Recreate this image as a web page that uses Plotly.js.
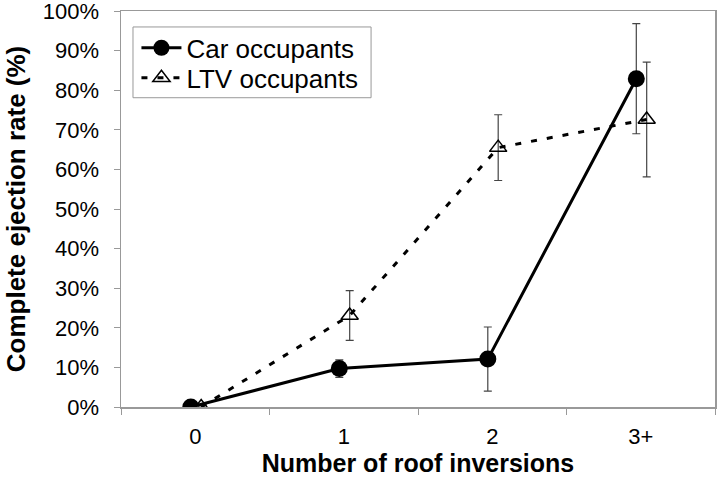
<!DOCTYPE html>
<html><head><meta charset="utf-8">
<script src="https://cdn.plot.ly/plotly-3.0.1.min.js"></script>
<style>html,body{margin:0;padding:0;background:#fff;}#chart{width:718px;height:481px;}</style>
</head><body><div id="chart"></div>
<script>
const categories = ["0", "1", "2", "3+"];
const carValues = [0, 9.7, 12.1, 82.9];
const carErrors = [0, 2.2, 8.1, 13.9];
const ltvValues = [0, 23.1, 65.5, 72.6];
const ltvErrors = [0, 6.3, 8.3, 14.5];
const yTickVals = [0,10,20,30,40,50,60,70,80,90,100];
const yTickText = ["0%","10%","20%","30%","40%","50%","60%","70%","80%","90%","100%"];

const idx = categories.map((c,i)=>i);
const carX = idx.map(i=>i-0.03);
const ltvX = idx.map(i=>i+0.04);

const traces = [
  {x: carX, y: carValues, name: 'Car occupants', mode:'lines+markers', type:'scatter', legend:'legend',
   line:{color:'#000', width:3}, marker:{symbol:'circle', size:17, color:'#000'},
   error_y:{type:'data', array:carErrors, visible:true, color:'#444', thickness:1.2, width:4}},
  {x: ltvX, y: ltvValues, name: 'LTV occupants', mode:'lines+markers', type:'scatter', legend:'legend2',
   line:{color:'#000', width:3, dash:'6px,10px'}, marker:{symbol:'triangle-up-open', size:15, color:'#000', line:{width:1.5, color:'#000'}},
   error_y:{type:'data', array:ltvErrors, visible:true, color:'#444', thickness:1.2, width:4}}
];

const legendCommon = {xanchor:'left', yanchor:'middle', bgcolor:'rgba(0,0,0,0)', borderwidth:0,
                      font:{size:26}, itemwidth:40};

const layout = {
  width:718, height:481,
  margin:{l:121, r:3, t:11, b:74},
  paper_bgcolor:'#fff', plot_bgcolor:'#fff',
  font:{family:'"Liberation Sans", Arial, sans-serif', color:'#000'},
  showlegend:true,
  legend:Object.assign({x:0.026, y:0.907}, legendCommon),
  legend2:Object.assign({x:0.026, y:0.831}, legendCommon),
  shapes:[{type:'rect', xref:'paper', yref:'paper', x0:0.0202, x1:0.421, y0:0.781, y1:0.9597,
           line:{color:'#999', width:1}, fillcolor:'rgba(0,0,0,0)', layer:'below'}],
  xaxis:{range:[-0.5,3.5], tickvals:idx, ticktext:categories, ticks:'', showgrid:false, zeroline:false,
         showline:true, linecolor:'#999', linewidth:1.5, mirror:true, tickfont:{size:22}, ticklabelstandoff:9,
         minor:{tickvals:[-0.5,0.5,1.5,2.5,3.5], ticks:'outside', ticklen:6, tickcolor:'#999', showgrid:false},
         title:{text:'<b>Number of roof inversions</b>', font:{size:25}, standoff:3}},
  yaxis:{range:[0,100], tickvals:yTickVals, ticktext:yTickText, ticks:'outside', ticklen:6, tickcolor:'#999',
         ticklabeloverflow:'allow', ticklabelstandoff:10,
         showgrid:false, zeroline:false, showline:true, linecolor:'#999', linewidth:1.5, mirror:true,
         tickfont:{size:22}, title:{text:'<b>Complete ejection rate (%)</b>', font:{size:26}, standoff:9}}
};
Plotly.newPlot('chart', traces, layout, {displayModeBar:false, staticPlot:true});
</script></body></html>
